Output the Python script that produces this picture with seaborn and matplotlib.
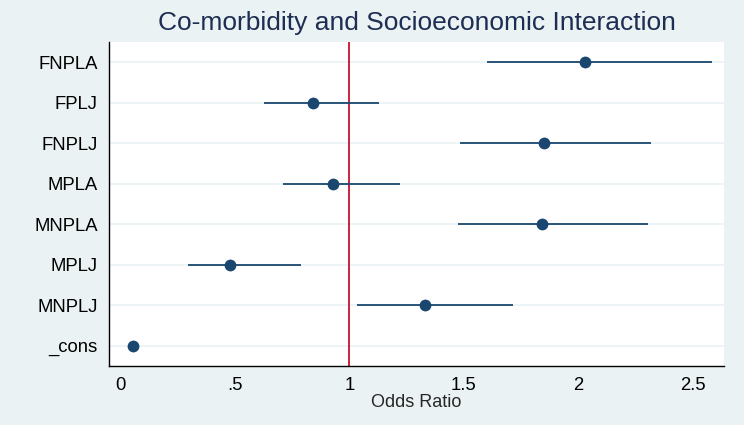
import numpy as np
import pandas as pd
import matplotlib
matplotlib.use("Agg")
import matplotlib.pyplot as plt
import seaborn as sns

# coefficients (odds ratios) with 95% CI, top to bottom
terms = ["FNPLA", "FPLJ", "FNPLJ", "MPLA", "MNPLA", "MPLJ", "MNPLJ", "_cons"]
odds = [2.03, 0.84, 1.85, 0.93, 1.84, 0.48, 1.33, 0.058]
ci_low = [1.60, 0.628, 1.483, 0.712, 1.475, 0.295, 1.032, 0.045]
ci_high = [2.582, 1.128, 2.316, 1.220, 2.304, 0.788, 1.715, 0.072]
xticks = [0, 0.5, 1, 1.5, 2, 2.5]
xtick_labels = ["0", ".5", "1", "1.5", "2", "2.5"]

df = pd.DataFrame({"term": terms, "or": odds, "lo": ci_low, "hi": ci_high})

sns.set_style("white")
plt.rcParams["font.family"] = ["Liberation Sans", "DejaVu Sans"]

bg = "#eaf2f3"
navy = "#1a476f"

fig = plt.figure(figsize=(7.44, 4.25), dpi=100, facecolor=bg)
ax = fig.add_axes([0.1465, 0.1388, 0.8266, 0.762])
ax.set_facecolor("white")

# light horizontal grid at each term
for i in range(len(terms)):
    ax.axhline(i, color=bg, lw=1.2, zorder=0)

# reference line at OR = 1
ax.axvline(1, color="#c8102e", lw=1.3, zorder=1)

# confidence intervals
ax.hlines(np.arange(len(terms)), df["lo"], df["hi"], color=navy, lw=1.3, zorder=2)

# point estimates
sns.stripplot(data=df, x="or", y="term", order=terms, orient="h", jitter=False,
              color=navy, size=8.5, linewidth=0, ax=ax, zorder=3)

ax.set_xlim(-0.048, 2.634)
ax.set_ylim(len(terms) - 0.5, -0.5)
ax.set_xticks(xticks)
ax.set_xticklabels(xtick_labels)

for side in ["top", "right"]:
    ax.spines[side].set_visible(False)
for side in ["left", "bottom"]:
    ax.spines[side].set_color("black")
    ax.spines[side].set_linewidth(1.0)

ax.tick_params(axis="both", which="both", direction="out", length=5, width=1,
               color="black", labelsize=13.3, labelcolor="black")
ax.tick_params(axis="y", pad=3)
ax.tick_params(axis="x", pad=3)

ax.set_ylabel("")
ax.set_xlabel("Odds Ratio", fontsize=13, labelpad=0)
ax.set_title("Co-morbidity and Socioeconomic Interaction", fontsize=19,
             color="#1e2d53", pad=9)

fig.savefig("out.png", dpi=100, facecolor=bg)
